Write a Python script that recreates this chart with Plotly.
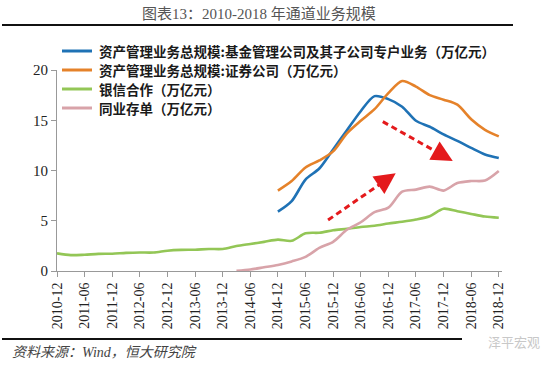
import plotly.graph_objects as go

# ---------------- data (万亿元) ----------------
tick_labels = ["2010-12", "2011-06", "2011-12", "2012-06", "2012-12", "2013-06",
               "2013-12", "2014-06", "2014-12", "2015-06", "2015-12", "2016-06",
               "2016-12", "2017-06", "2017-12", "2018-06", "2018-12"]

green_dates = ["2010-12", "2011-03", "2011-06", "2011-09", "2011-12", "2012-03", "2012-06",
               "2012-09", "2012-12", "2013-03", "2013-06", "2013-09", "2013-12", "2014-03",
               "2014-06", "2014-09", "2014-12", "2015-03", "2015-06", "2015-09", "2015-12",
               "2016-03", "2016-06", "2016-09", "2016-12", "2017-03", "2017-06", "2017-09",
               "2017-12", "2018-03", "2018-06", "2018-09", "2018-12"]
green_values = [1.76, 1.58, 1.62, 1.70, 1.72, 1.80, 1.84, 1.84, 2.02, 2.10, 2.12, 2.19,
                2.19, 2.48, 2.69, 2.90, 3.12, 3.00, 3.75, 3.81, 4.05, 4.20, 4.38, 4.50,
                4.72, 4.90, 5.12, 5.45, 6.20, 5.95, 5.68, 5.42, 5.30]

asset_dates = ["2014-12", "2015-03", "2015-06", "2015-09", "2015-12", "2016-03", "2016-06",
               "2016-09", "2016-12", "2017-03", "2017-06", "2017-09", "2017-12", "2018-03",
               "2018-06", "2018-09", "2018-12"]
blue_values = [5.9, 6.95, 9.1, 10.2, 12.1, 14.0, 15.9, 17.4, 17.1, 16.35, 14.95, 14.35,
               13.6, 12.95, 12.25, 11.6, 11.25]
orange_values = [8.0, 8.95, 10.3, 11.0, 11.9, 13.7, 14.95, 16.1, 17.7, 18.9, 18.35, 17.5,
                 17.05, 16.55, 15.1, 14.05, 13.4]

pink_dates = ["2014-03", "2014-06", "2014-09", "2014-12", "2015-03", "2015-06", "2015-09",
              "2015-12", "2016-03", "2016-06", "2016-09", "2016-12", "2017-03", "2017-06",
              "2017-09", "2017-12", "2018-03", "2018-06", "2018-09", "2018-12"]
pink_values = [0.02, 0.15, 0.37, 0.6, 0.95, 1.4, 2.3, 2.9, 4.1, 4.85, 5.85, 6.3, 7.9, 8.1,
               8.4, 8.0, 8.75, 8.95, 9.0, 9.95]

series_names = ["资产管理业务总规模:基金管理公司及其子公司专户业务（万亿元）",
                "资产管理业务总规模:证券公司（万亿元）",
                "银信合作（万亿元）",
                "同业存单（万亿元）"]
colors = ["#1F72B5", "#E5822A", "#93C656", "#D8A3A9"]

# arrows (month index, value): start -> tip
arrow_up = ((58.9, 5.07), (73.6, 9.72))
arrow_down = ((70.8, 14.86), (86.0, 10.95))


def midx(d):
    y, m = d.split("-")
    return (int(y) - 2010) * 12 + int(m) - 12


fig = go.Figure()
for name, dates, vals, col in [
    (series_names[0], asset_dates, blue_values, colors[0]),
    (series_names[1], asset_dates, orange_values, colors[1]),
    (series_names[2], green_dates, green_values, colors[2]),
    (series_names[3], pink_dates, pink_values, colors[3]),
]:
    fig.add_trace(go.Scatter(
        x=[midx(d) for d in dates], y=vals, name=name, mode="lines",
        line=dict(color=col, width=2.6, shape="spline", smoothing=0.8),
        hoverinfo="skip", showlegend=False))

# plot area in pixels
L, R, T, B = 57, 502, 70, 271
W, H = 550, 365


def pxx(p):
    return (p - L) / (R - L)


def pxy(p):
    return (B - p) / (B - T)


serif = "Liberation Serif, Noto Sans CJK SC, serif"
cjk = "Noto Sans CJK SC, sans-serif"

shapes = [
    dict(type="line", xref="paper", yref="paper", x0=pxx(2), x1=pxx(513),
         y0=pxy(25), y1=pxy(25), line=dict(color="#111", width=2.2)),
    dict(type="line", xref="paper", yref="paper", x0=pxx(2), x1=pxx(462),
         y0=pxy(339), y1=pxy(339), line=dict(color="#111", width=2.2)),
]
annotations = [
    dict(text="图表13：2010-2018 年通道业务规模", xref="paper", yref="paper",
         x=pxx(259), y=pxy(14), showarrow=False, xanchor="center", yanchor="middle",
         font=dict(family=serif, size=15, color="#555")),
    dict(text="<i>资料来源：Wind，恒大研究院</i>", xref="paper", yref="paper",
         x=pxx(10), y=pxy(352), showarrow=False, xanchor="left", yanchor="middle",
         font=dict(family=serif, size=14, color="#444")),
    dict(text="泽平宏观", xref="paper", yref="paper",
         x=pxx(542), y=pxy(341), showarrow=False, xanchor="right", yanchor="middle",
         font=dict(family=cjk, size=13, color="#c8c8c8")),
]

# legend (drawn as line samples + text, top-left of plot area)
legend_rows = [51, 70, 89, 108]
for name, col, ry in zip(series_names, colors, legend_rows):
    shapes.append(dict(type="line", xref="paper", yref="paper", x0=pxx(62), x1=pxx(92),
                       y0=pxy(ry), y1=pxy(ry), line=dict(color=col, width=3)))
    annotations.append(dict(text=name, xref="paper", yref="paper", x=pxx(97), y=pxy(ry),
                            showarrow=False, xanchor="left", yanchor="middle",
                            font=dict(family=cjk, size=13.5, color="#1a1a1a",
                                      weight="bold")))

for (x0, y0), (x1, y1) in [arrow_up, arrow_down]:
    f = 0.88
    shapes.append(dict(type="line", xref="x", yref="y", x0=x0, y0=y0,
                       x1=x0 + (x1 - x0) * f, y1=y0 + (y1 - y0) * f,
                       line=dict(color="#E41A1C", width=3, dash="6px,4px")))
    g = 0.9
    annotations.append(dict(x=x1, y=y1, ax=x0 + (x1 - x0) * g, ay=y0 + (y1 - y0) * g,
                            xref="x", yref="y", axref="x", ayref="y", text="",
                            showarrow=True, arrowhead=2, arrowsize=1.4, arrowwidth=3,
                            arrowcolor="#E41A1C"))

fig.update_layout(
    width=W, height=H,
    margin=dict(l=L, r=W - R, t=T, b=H - B, pad=0),
    paper_bgcolor="white", plot_bgcolor="white",
    showlegend=False,
    xaxis=dict(range=[0, 96.7], tickmode="array",
               tickvals=[midx(t) for t in tick_labels], ticktext=tick_labels,
               tickangle=-90, ticks="outside", ticklen=5, tickcolor="#999",
               showline=True, linecolor="#999", linewidth=1, showgrid=False,
               zeroline=False, tickfont=dict(family=serif, size=14, color="#222")),
    yaxis=dict(range=[0, 20], tickvals=[0, 5, 10, 15, 20], ticks="outside", ticklen=5,
               tickcolor="#999", showline=True, linecolor="#999", linewidth=1,
               showgrid=False, zeroline=False,
               tickfont=dict(family=serif, size=15, color="#222")),
    shapes=shapes, annotations=annotations,
)

fig.write_html("out.html", config={"displayModeBar": False},
               post_script="document.body.style.margin='0';document.body.style.overflow='hidden';")
